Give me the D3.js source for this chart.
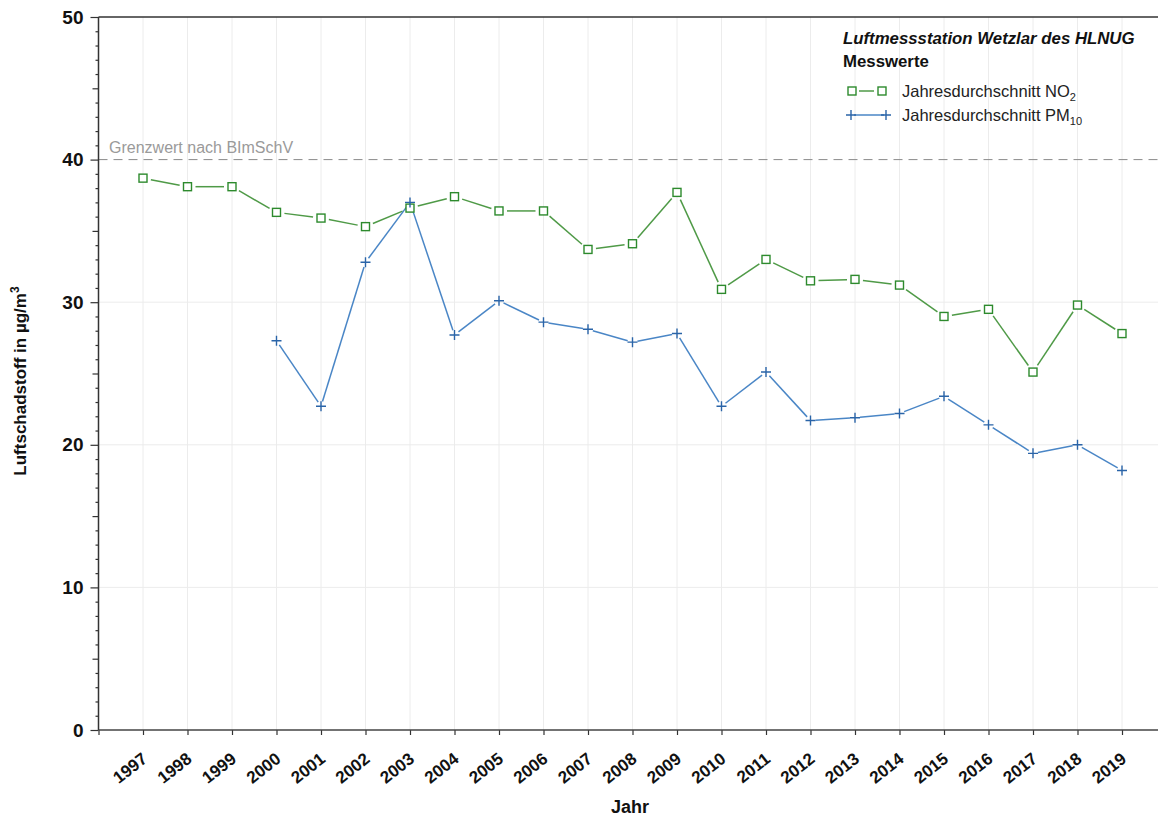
<!DOCTYPE html>
<html>
<head>
<meta charset="utf-8">
<script src="https://cdn.jsdelivr.net/npm/d3@7"></script>
<style>
  html, body { margin: 0; padding: 0; background: #fff; }
  svg { display: block; font-family: "Liberation Sans", Arial, sans-serif; }
</style>
</head>
<body>
<svg id="chart" width="1158" height="819"></svg>
<script>
// ---- Data ----
const years = [1997,1998,1999,2000,2001,2002,2003,2004,2005,2006,2007,2008,2009,2010,2011,2012,2013,2014,2015,2016,2017,2018,2019];
const no2 = [38.7,38.1,38.1,36.3,35.9,35.3,36.6,37.4,36.4,36.4,33.7,34.1,37.7,30.9,33.0,31.5,31.6,31.2,29.0,29.5,25.1,29.8,27.8];
const pm10Years = [2000,2001,2002,2003,2004,2005,2006,2007,2008,2009,2010,2011,2012,2013,2014,2015,2016,2017,2018,2019];
const pm10 = [27.3,22.7,32.8,37.0,27.7,30.1,28.6,28.1,27.2,27.8,22.7,25.1,21.7,21.9,22.2,23.4,21.4,19.4,20.0,18.2];
const yTickLabels = [0,10,20,30,40,50];
const limitValue = 40;
const limitLabel = "Grenzwert nach BImSchV";
const legendTitle = "Luftmessstation Wetzlar des HLNUG";
const legendSubtitle = "Messwerte";
const yTitle = "Luftschadstoff in µg/m";
const xTitle = "Jahr";

// ---- Styles ----
const greenLine = "#4f9a47", greenMark = "#2d8a2d";
const blueLine = "#4a86c6", blueMark = "#2a64a8";
const gridCol = "#ececec";

const svg = d3.select("#chart");
const x = d3.scaleLinear().domain([1996, 2020]).range([98.5, 1166.5]);
const y = d3.scaleLinear().domain([0, 50]).range([730, 17]);

// grid
const g = svg.append("g");
g.selectAll("line.vg").data(years).enter().append("line")
  .attr("x1", d => x(d)).attr("x2", d => x(d)).attr("y1", y(50)).attr("y2", y(0))
  .attr("stroke", gridCol).attr("stroke-width", 1);
g.selectAll("line.hg").data([10,20,30]).enter().append("line")
  .attr("x1", x(1996)).attr("x2", 1158).attr("y1", d => y(d)).attr("y2", d => y(d))
  .attr("stroke", gridCol).attr("stroke-width", 1);

// limit line
svg.append("line").attr("x1", x(1996)).attr("x2", 1158).attr("y1", y(limitValue)).attr("y2", y(limitValue))
  .attr("stroke", "#8a8a8a").attr("stroke-width", 1).attr("stroke-dasharray", "9,6");
svg.append("text").attr("x", 109).attr("y", y(limitValue) - 7).attr("fill", "#9a9a9a")
  .attr("font-size", 16).text(limitLabel);

// top frame line
svg.append("line").attr("x1", x(1996)).attr("x2", 1158).attr("y1", y(50)).attr("y2", y(50))
  .attr("stroke", "#333").attr("stroke-width", 1.5);

// y axis
const minor = d3.range(0, 51, 1).filter(v => v % 5 !== 0);
const half = [5,15,25,35,45];
function styleAxis(sel) {
  sel.select(".domain").remove();
  sel.selectAll(".tick line").attr("stroke", "#333").attr("stroke-width", 1.2);
}
svg.append("g").attr("transform", `translate(${x(1996)},0)`)
  .call(d3.axisLeft(y).tickValues(minor).tickSize(3).tickFormat(""))
  .call(styleAxis);
svg.append("g").attr("transform", `translate(${x(1996)},0)`)
  .call(d3.axisLeft(y).tickValues(half).tickSize(6).tickFormat(""))
  .call(styleAxis);
const yAx = svg.append("g").attr("transform", `translate(${x(1996)},0)`)
  .call(d3.axisLeft(y).tickValues(yTickLabels).tickSize(8).tickPadding(7).tickFormat(d3.format("d")))
  .call(styleAxis);
yAx.selectAll("text").attr("font-size", 19).attr("font-weight", "bold").attr("fill", "#111")
  .attr("font-family", "Liberation Sans, Arial, sans-serif");
svg.append("line").attr("x1", x(1996)).attr("x2", x(1996)).attr("y1", y(50)).attr("y2", y(0))
  .attr("stroke", "#333").attr("stroke-width", 1.5);

// x axis
const xAx = svg.append("g").attr("transform", `translate(0,${y(0)})`)
  .call(d3.axisBottom(x).tickValues([1996].concat(years)).tickSize(5).tickFormat(d => d === 1996 ? "" : d3.format("d")(d)));
xAx.select(".domain").remove();
xAx.selectAll(".tick line").attr("stroke", "#333").attr("stroke-width", 1.2);
xAx.selectAll("text").attr("font-size", 17).attr("font-weight", "bold").attr("fill", "#111")
  .attr("font-family", "Liberation Sans, Arial, sans-serif")
  .attr("text-anchor", "end").attr("dy", 0).attr("y", 0)
  .attr("transform", "translate(5,31) rotate(-38)");
svg.append("line").attr("x1", x(1996)).attr("x2", 1158).attr("y1", y(0)).attr("y2", y(0))
  .attr("stroke", "#444").attr("stroke-width", 1.5);

// titles
svg.append("text").attr("transform", `translate(26,${381}) rotate(-90)`).attr("text-anchor", "middle")
  .attr("font-size", 17).attr("font-weight", "bold").attr("fill", "#111")
  .text(yTitle).append("tspan").attr("baseline-shift", "super").attr("font-size", 12).text("3");
svg.append("text").attr("x", 630).attr("y", 813).attr("text-anchor", "middle")
  .attr("font-size", 18).attr("font-weight", "bold").attr("fill", "#111").text(xTitle);

// series segments, shortened near markers
function segs(xs, vs, gap) {
  const out = [];
  for (let i = 0; i < vs.length - 1; i++) {
    const x1 = x(xs[i]), y1 = y(vs[i]), x2 = x(xs[i+1]), y2 = y(vs[i+1]);
    const L = Math.hypot(x2 - x1, y2 - y1), ux = (x2 - x1) / L, uy = (y2 - y1) / L;
    out.push([x1 + ux*gap, y1 + uy*gap, x2 - ux*gap, y2 - uy*gap]);
  }
  return out;
}
svg.append("g").selectAll("line").data(segs(years, no2, 8)).enter().append("line")
  .attr("x1", d => d[0]).attr("y1", d => d[1]).attr("x2", d => d[2]).attr("y2", d => d[3])
  .attr("stroke", greenLine).attr("stroke-width", 1.5);
svg.append("g").selectAll("line").data(segs(pm10Years, pm10, 5)).enter().append("line")
  .attr("x1", d => d[0]).attr("y1", d => d[1]).attr("x2", d => d[2]).attr("y2", d => d[3])
  .attr("stroke", blueLine).attr("stroke-width", 1.5);

// markers
svg.append("g").selectAll("rect").data(years.map((yr, i) => [yr, no2[i]])).enter().append("rect")
  .attr("x", d => x(d[0]) - 4).attr("y", d => y(d[1]) - 4).attr("width", 8).attr("height", 8)
  .attr("fill", "#fff").attr("stroke", greenMark).attr("stroke-width", 1.4);
function plusPath(cx, cy, r) { return `M${cx-r},${cy}H${cx+r}M${cx},${cy-r}V${cy+r}`; }
svg.append("g").selectAll("path").data(pm10Years.map((yr, i) => [yr, pm10[i]])).enter().append("path")
  .attr("d", d => plusPath(x(d[0]), y(d[1]), 5))
  .attr("stroke", blueMark).attr("stroke-width", 1.4).attr("fill", "none");

// legend
const lg = svg.append("g");
lg.append("text").attr("x", 843).attr("y", 44).attr("font-size", 16.8).attr("font-weight", "bold")
  .attr("font-style", "italic").attr("fill", "#111").text(legendTitle);
lg.append("text").attr("x", 843).attr("y", 67).attr("font-size", 16.8).attr("font-weight", "bold")
  .attr("fill", "#111").text(legendSubtitle);
// NO2 row
const r1 = 91;
lg.append("line").attr("x1", 859).attr("x2", 874).attr("y1", r1).attr("y2", r1).attr("stroke", greenLine).attr("stroke-width", 1.5);
[852, 882].forEach(cx => lg.append("rect").attr("x", cx - 4).attr("y", r1 - 4).attr("width", 8).attr("height", 8)
  .attr("fill", "#fff").attr("stroke", greenMark).attr("stroke-width", 1.4));
const t1 = lg.append("text").attr("x", 902).attr("y", r1 + 6).attr("font-size", 16.5).attr("fill", "#222");
t1.append("tspan").text("Jahresdurchschnitt NO");
t1.append("tspan").attr("font-size", 11).attr("dy", 4).text("2");
// PM10 row
const r2 = 115;
lg.append("line").attr("x1", 854).attr("x2", 884).attr("y1", r2).attr("y2", r2).attr("stroke", blueLine).attr("stroke-width", 1.5);
[851, 886].forEach(cx => lg.append("path").attr("d", plusPath(cx, r2, 5)).attr("stroke", blueMark).attr("stroke-width", 1.4).attr("fill", "none"));
const t2 = lg.append("text").attr("x", 902).attr("y", r2 + 6).attr("font-size", 16.5).attr("fill", "#222");
t2.append("tspan").text("Jahresdurchschnitt PM");
t2.append("tspan").attr("font-size", 11).attr("dy", 4).text("10");
</script>
</body>
</html>
